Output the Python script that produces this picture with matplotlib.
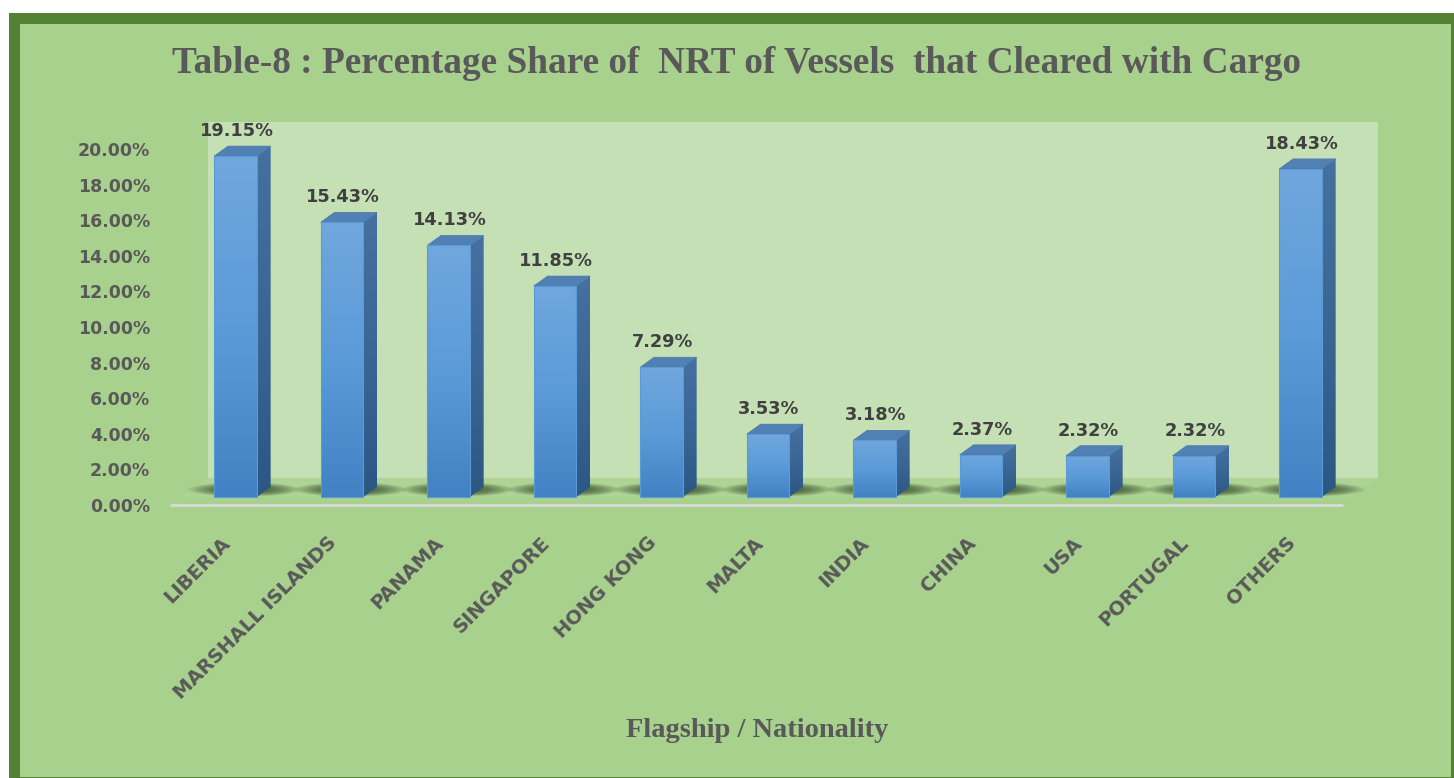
import numpy as np
import matplotlib.pyplot as plt
from matplotlib.patches import Polygon, Rectangle, Ellipse
from matplotlib.colors import LinearSegmentedColormap
import matplotlib.transforms as mtransforms

countries = ["LIBERIA", "MARSHALL ISLANDS", "PANAMA", "SINGAPORE", "HONG KONG",
             "MALTA", "INDIA", "CHINA", "USA", "PORTUGAL", "OTHERS"]
share = [19.15, 15.43, 14.13, 11.85, 7.29, 3.53, 3.18, 2.37, 2.32, 2.32, 18.43]
yticks = np.arange(0, 21, 2)

title = "Table-8 : Percentage Share of  NRT of Vessels  that Cleared with Cargo"
xtitle = "Flagship / Nationality"

W, H = 1454, 778
fig = plt.figure(figsize=(W / 100, H / 100), dpi=100)
fig.patch.set_facecolor("white")

# green frame
fig.patches.append(Rectangle((9 / W, 0), (W - 9) / W, (H - 13) / H, transform=fig.transFigure,
                             facecolor="#548235", edgecolor="none", zorder=-2))
fig.patches.append(Rectangle((20 / W, 1 / H), (1451 - 20) / W, (H - 25) / H, transform=fig.transFigure,
                             facecolor="#a9d18e", edgecolor="none", zorder=-1))

ax = fig.add_axes([160 / W, (H - 520) / H, 1240 / W, 420 / H])
ax.set_zorder(2)
ax.set_facecolor("none")
for s in ax.spines.values():
    s.set_visible(False)

x = np.arange(len(countries))
bw, dx, dy = 0.40, 0.13, 0.56   # bar width and 3d depth offsets

# back wall and floor
ax.add_patch(Rectangle((-0.26, 1.07), 10.99, 20.0, facecolor="#c5e0b4", edgecolor="none", zorder=1))
ax.add_patch(Polygon([(-0.52, 0), (10.47, 0), (10.73, 1.07), (-0.26, 1.07)],
                     facecolor="#aed495", edgecolor="none", zorder=2))
ax.hlines(-0.45, -0.615, 10.40, color="#d9d9d9", lw=2, zorder=2)

# soft shadows on the floor
for xi in x:
    for k in range(12):
        f = 1 - k * 0.05
        ax.add_patch(Ellipse((xi + 0.08, 0.42), 1.05 * f, 0.8 * f,
                             facecolor="#1a2a10", alpha=0.07, edgecolor="none", zorder=3))

front_cmap = LinearSegmentedColormap.from_list("front", ["#4282c4", "#5b9bd8", "#70a7de"])
side_cmap = LinearSegmentedColormap.from_list("side", ["#2c5784", "#3a6695", "#45709f"])
grad = np.linspace(0, 1, 256).reshape(-1, 1)

bars = ax.bar(x, share, width=bw, color="none", edgecolor="#5b9bd5", lw=0.8, zorder=6)
for b, v in zip(bars, share):
    x0, x1 = b.get_x(), b.get_x() + b.get_width()
    ax.imshow(grad, extent=[x0, x1, 0, v], origin="lower", aspect="auto", cmap=front_cmap, zorder=5)
    side = Polygon([(x1, 0), (x1 + dx, dy), (x1 + dx, v + dy), (x1, v)],
                   facecolor="none", edgecolor="none", zorder=5)
    ax.add_patch(side)
    im = ax.imshow(grad, extent=[x1, x1 + dx, 0, v + dy], origin="lower", aspect="auto",
                   cmap=side_cmap, zorder=5)
    im.set_clip_path(side)
    ax.add_patch(Polygon([(x0, v), (x1, v), (x1 + dx, v + dy), (x0 + dx, v + dy)],
                         facecolor="#5080b4", edgecolor="#4a78aa", lw=0.5, zorder=5))
    ax.annotate(f"{v:.2f}%", (b.get_x() + bw / 2, v), xytext=(0.7, 18), textcoords="offset points",
                ha="center", va="center", fontsize=12.8, fontweight="bold", color="#404040",
                family="DejaVu Sans", zorder=7)

ax.set_xlim(-0.709, 10.934)
ax.set_ylim(-1.292, 22.30)
ax.set_xticks([])
ax.set_yticks([])

ytrans = ax.get_yaxis_transform() + mtransforms.ScaledTranslation(-0.10, -0.10, fig.dpi_scale_trans)
for v in yticks:
    ax.text(0, v, f"{v:.2f}%", transform=ytrans, ha="right", va="center",
            fontsize=12.5, fontweight="bold", color="#595959", family="DejaVu Sans")

xtrans = ax.transData + mtransforms.ScaledTranslation(-0.08, -0.43, fig.dpi_scale_trans)
for xi, name in zip(x, countries):
    ax.text(xi, 0, name, transform=xtrans, rotation=45, rotation_mode="anchor",
            ha="right", va="center", fontsize=14, fontweight="bold", color="#595959",
            family="DejaVu Sans", clip_on=False)

fig.text(737 / W, 1 - 73 / H, title, ha="center", va="baseline", family="Liberation Serif",
         fontweight="bold", fontsize=26.8, color="#595959")
fig.text(757 / W, 1 - 737 / H, xtitle, ha="center", va="baseline", family="Liberation Serif",
         fontweight="bold", fontsize=20.5, color="#595959")

fig.savefig("out.png", dpi=100, facecolor=fig.get_facecolor())
